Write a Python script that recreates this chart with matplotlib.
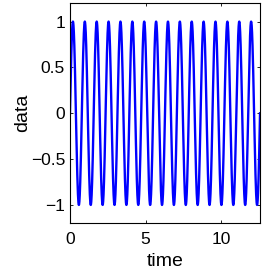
'''
plot.py

sine wave over time, matlab style
'''
import numpy as np
import matplotlib
matplotlib.use('Agg')
import matplotlib.pyplot as plt

plt.rcParams['font.family'] = ['Liberation Sans', 'DejaVu Sans']

# 16 full cycles between t = 0 and t = 4*pi, amplitude 1
t_end = 4 * np.pi
n_cycles = 16
amplitude = 1.0
n_samples = 2000

x_ticks = [0, 5, 10]
y_ticks = [-1, -0.5, 0, 0.5, 1]
y_tick_labels = ['\u22121', '\u22120.5', '0', '0.5', '1']
x_limits = [0, t_end]
y_limits = [-1.2, 1.2]

time = np.linspace(0, t_end, n_samples)
data = amplitude * np.sin(2 * np.pi * n_cycles * time / t_end)

fig = plt.figure(figsize=(2.64, 2.70), dpi=100)
ax = fig.add_axes([0.265, 0.173, 0.72, 0.815])
ax.plot(time, data, color='#0000ff', linewidth=1.7)

ax.set_xlim(x_limits)
ax.set_ylim(y_limits)
ax.set_xticks(x_ticks)
ax.set_yticks(y_ticks)
ax.set_yticklabels(y_tick_labels)
ax.tick_params(direction='in', length=2.5, width=0.6, labelsize=12.5,
               top=True, right=True)
ax.tick_params(axis='x', pad=6.5)
ax.tick_params(axis='y', pad=3.5)
for spine in ax.spines.values():
    spine.set_linewidth(0.8)

ax.set_xlabel('time', fontsize=14, labelpad=4)
ax.set_ylabel('data', fontsize=14, labelpad=0)

fig.savefig('out.png', dpi=100)
